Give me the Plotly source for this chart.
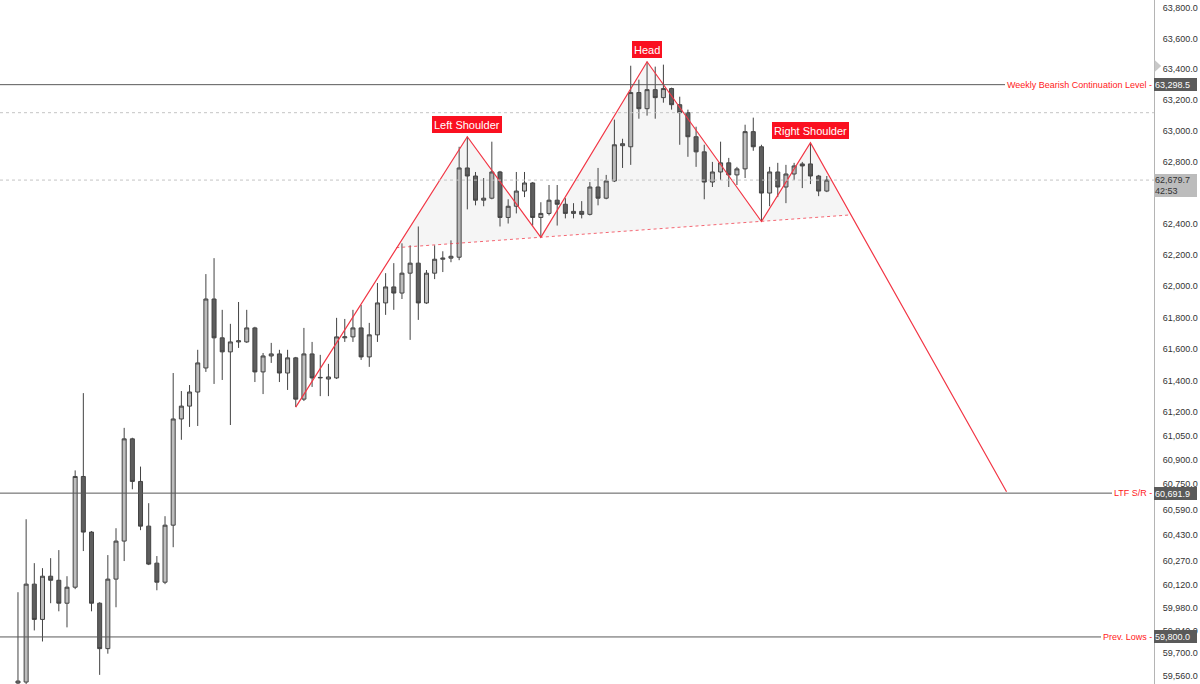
import math
import plotly.graph_objects as go

# ---------------- data ----------------
opens = [59517, 59523, 60126, 59908, 60175, 60150, 60008, 60107, 60796, 60449,
         60008, 59728, 60157, 60393, 61032, 60765, 60486, 60256, 60138, 60492,
         61157, 61238, 61327, 61479, 61917, 61670, 61581, 61644, 61644, 61733,
         61454, 61555, 61568, 61447, 61543, 61282, 61568, 61416, 61409, 61416,
         61670, 61676, 61733, 61549, 61689, 61892, 61994, 61955, 62082, 62146,
         61892, 62082, 62171, 62178, 62184, 62758, 62706, 62550, 62563, 62732,
         62439, 62511, 62609, 62661, 62439, 62465, 62550, 62524, 62465, 62478,
         62459, 62635, 62563, 62674, 62902, 62895, 63247, 63142, 63266, 63214,
         63273, 63168, 63116, 62960, 62862, 62667, 62732, 62791, 62713, 62752,
         62993, 62895, 62596, 62732, 62635, 62719, 62784, 62784, 62706, 62609]
highs = [60076, 60529, 60256, 60225, 60287, 60337, 60175, 60834, 61320, 60455,
         60014, 60306, 60473, 61101, 61039, 60858, 60629, 60300, 60548, 61447,
         61333, 61371, 61594, 62076, 62178, 61848, 61759, 61898, 61848, 61740,
         61574, 61638, 61594, 61594, 61549, 61733, 61644, 61562, 61505, 61797,
         61790, 61848, 61879, 61765, 62019, 62082, 62146, 62273, 62260, 62381,
         62102, 62260, 62222, 62292, 62895, 62960, 62732, 62693, 62928, 62739,
         62556, 62732, 62732, 62667, 62537, 62648, 62648, 62563, 62531, 62544,
         62667, 62758, 62713, 63071, 62947, 63422, 63331, 63448, 63416, 63429,
         63279, 63220, 63136, 63025, 62908, 62797, 62928, 62823, 62765, 63038,
         63084, 62908, 62765, 62791, 62778, 62791, 62797, 62921, 62713, 62706]
lows = [59486, 59511, 59840, 59772, 60008, 59958, 59859, 60095, 60331, 59958,
        59567, 59697, 59983, 60269, 60716, 60461, 60244, 60088, 60126, 60355,
        61026, 61107, 61113, 61454, 61378, 61403, 61119, 61606, 61638, 61390,
        61314, 61511, 61390, 61340, 61232, 61270, 61359, 61301, 61301, 61409,
        61644, 61644, 61530, 61486, 61644, 61816, 61848, 61917, 61657, 61784,
        61886, 62044, 62089, 62152, 62165, 62491, 62517, 62511, 62556, 62381,
        62400, 62465, 62570, 62387, 62311, 62452, 62387, 62433, 62433, 62433,
        62452, 62517, 62556, 62667, 62758, 62778, 63077, 63097, 63077, 63181,
        63136, 62908, 62830, 62765, 62556, 62635, 62680, 62635, 62648, 62693,
        62869, 62413, 62511, 62570, 62531, 62680, 62628, 62654, 62576, 62602]
closes = [59529, 60126, 59908, 60175, 60150, 60008, 60107, 60796, 60449, 60008,
          59728, 60157, 60393, 61032, 60765, 60486, 60250, 60138, 60492, 61157,
          61238, 61327, 61511, 61917, 61670, 61581, 61644, 61651, 61733, 61454,
          61555, 61568, 61447, 61543, 61282, 61568, 61416, 61419, 61422, 61676,
          61676, 61733, 61549, 61689, 61892, 61994, 61955, 62082, 62146, 61892,
          62082, 62171, 62178, 62190, 62758, 62706, 62550, 62563, 62732, 62439,
          62511, 62609, 62661, 62439, 62465, 62550, 62524, 62465, 62478, 62459,
          62635, 62563, 62674, 62908, 62915, 63247, 63142, 63266, 63214, 63273,
          63168, 63116, 62960, 62862, 62667, 62732, 62791, 62713, 62752, 62993,
          62895, 62596, 62732, 62635, 62719, 62771, 62771, 62706, 62609, 62679.7]
bars = list(range(len(opens)))

# head & shoulders zigzag (bar index, price)
zig_x = [34, 55, 64, 77, 91, 97, 121]
zig_y = [61232, 62960, 62311, 63448, 62413, 62921, 60700]
# neckline (dotted)
neck_x = [46.3, 101.8]
neck_y = [62245, 62455]
# shaded pattern area
area_x = [46.3, 55, 64, 77, 91, 97, 101.8, 46.3]
area_y = [62245, 62960, 62311, 63448, 62413, 62921, 62455, 62245]

pattern_labels = ["Left Shoulder", "Head", "Right Shoulder"]
pattern_label_x = [55, 77, 97]
pattern_label_y = [62960, 63448, 62921]

levels = [63298.5, 60691.9, 59800.0]
level_names = ["Weekly Bearish Continuation Level -", "LTF S/R -", "Prev. Lows -"]
level_tags = ["63,298.5", "60,691.9", "59,800.0"]
dotted_levels = [63116, 62679.7]
last_price = 62679.7
last_tag = "62,679.7<br>42:53"

tick_vals = [63800, 63600, 63400, 63200, 63000, 62800, 62400, 62200, 62000, 61800,
             61600, 61400, 61200, 61050, 60900, 60750, 60590, 60430, 60270, 60120,
             59980, 59840, 59700, 59560]
tick_text = ["{:,.1f}".format(v) for v in tick_vals]

RED = "#f23645"
TEXT_RED = "#ff1a1a"
LABEL_RED = "#fa1020"

# ---------------- figure ----------------
fig = go.Figure()

fig.add_trace(go.Scatter(x=area_x, y=area_y, fill="toself", mode="lines",
                         line=dict(width=0, color="rgba(0,0,0,0)"),
                         fillcolor="rgba(120,120,120,0.07)", hoverinfo="skip",
                         showlegend=False))

fig.add_trace(go.Candlestick(
    x=bars, open=opens, high=highs, low=lows, close=closes,
    increasing=dict(line=dict(color="#434343", width=1), fillcolor="#bdbdbd"),
    decreasing=dict(line=dict(color="#434343", width=1), fillcolor="#5e5e5e"),
    whiskerwidth=0, showlegend=False))

fig.add_trace(go.Scatter(x=neck_x, y=neck_y, mode="lines",
                         line=dict(color="rgba(242,54,69,0.75)", width=1, dash="dot"),
                         showlegend=False, hoverinfo="skip"))
fig.add_trace(go.Scatter(x=zig_x, y=zig_y, mode="lines",
                         line=dict(color=RED, width=1.2),
                         showlegend=False, hoverinfo="skip"))

shapes = []
for lv in levels:
    shapes.append(dict(type="line", xref="paper", x0=0, x1=1, yref="y", y0=lv, y1=lv,
                       line=dict(color="#5a5a5a", width=1)))
for lv in dotted_levels:
    shapes.append(dict(type="line", xref="paper", x0=0, x1=1, yref="y", y0=lv, y1=lv,
                       line=dict(color="#c4c4c4", width=1, dash="dot")))
# small marker triangle on the price scale
H = 684.0
shapes.append(dict(type="path", xref="paper", yref="paper",
                   path="M 1.0006 {:.4f} L 1.0062 {:.4f} L 1.0006 {:.4f} Z".format(
                       1 - 60 / H, 1 - 66 / H, 1 - 72 / H),
                   fillcolor="#c8c8c8", line=dict(width=0)))

annotations = []
for name, px, py in zip(pattern_labels, pattern_label_x, pattern_label_y):
    annotations.append(dict(x=px, y=math.log10(py), xref="x", yref="y", text=name,
                            showarrow=False, yanchor="bottom", yshift=4,
                            font=dict(family="Liberation Sans", size=11, color="white"),
                            bgcolor=LABEL_RED, bordercolor=LABEL_RED, borderwidth=1,
                            borderpad=1, height=13))
for lv, name, tag in zip(levels, level_names, level_tags):
    annotations.append(dict(x=1, y=math.log10(lv), xref="paper", yref="y", text=name,
                            showarrow=False, xanchor="right", xshift=0,
                            font=dict(family="Liberation Sans", size=9, color=TEXT_RED),
                            bgcolor="white", borderpad=2, borderwidth=0))
    annotations.append(dict(x=1, y=math.log10(lv), xref="paper", yref="y", text=tag,
                            showarrow=False, xanchor="left", xshift=0, align="left",
                            font=dict(family="Liberation Sans", size=9, color="white"),
                            bgcolor="#5a5a5a", borderpad=1, borderwidth=0,
                            width=41, height=11))
annotations.append(dict(x=1, y=math.log10(last_price), xref="paper", yref="y",
                        text=last_tag, showarrow=False, xanchor="left", yanchor="top",
                        yshift=6, align="left",
                        font=dict(family="Liberation Sans", size=9, color="#333333"),
                        bgcolor="#bcbcbc", borderpad=1, borderwidth=0,
                        width=41, height=21))

lo, hi = math.log10(59560), math.log10(63800)
d = (hi - lo) / 668.0

fig.update_layout(
    width=1200, height=684,
    margin=dict(l=0, r=46, t=0, b=0),
    paper_bgcolor="white", plot_bgcolor="white",
    showlegend=False,
    shapes=shapes, annotations=annotations,
    xaxis=dict(range=[-2.2, 139.05], visible=False, rangeslider=dict(visible=False),
               showgrid=False, zeroline=False),
    yaxis=dict(type="log", range=[lo - 8 * d, hi + 8 * d], side="right",
               showgrid=False, zeroline=False, showline=True, linecolor="#b4b4b4",
               linewidth=1, ticks="", tickmode="array", tickvals=tick_vals,
               ticktext=tick_text, ticklabelstandoff=6,
               tickfont=dict(family="Liberation Sans", size=9, color="#333333")),
)

fig.write_html("out.html")
